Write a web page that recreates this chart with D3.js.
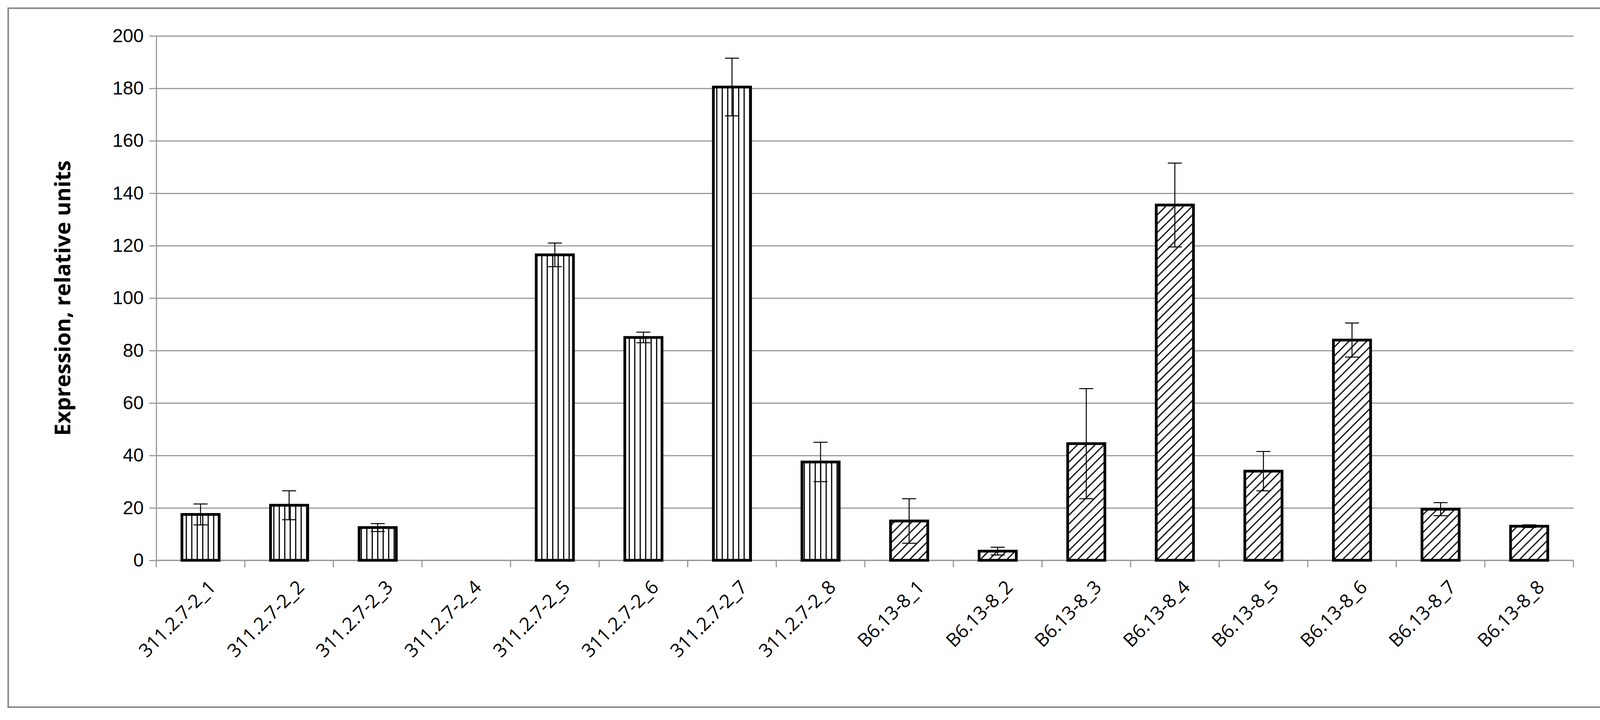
<!DOCTYPE html>
<html><head><meta charset="utf-8">
<script src="https://cdn.jsdelivr.net/npm/d3@7"></script>
<style>body{margin:0;background:#fff}</style>
</head><body><div id="chart"></div>
<script>
const categories = ["311.2.7-2_1","311.2.7-2_2","311.2.7-2_3","311.2.7-2_4","311.2.7-2_5","311.2.7-2_6","311.2.7-2_7","311.2.7-2_8",
  "B6.13-8_1","B6.13-8_2","B6.13-8_3","B6.13-8_4","B6.13-8_5","B6.13-8_6","B6.13-8_7","B6.13-8_8"]
const values = [17.5,21,12.5,0,116.5,85,180.5,37.5,15,3.5,44.5,135.5,34,84,19.5,13]
const errors = [4,5.5,1.5,0,4.5,2,11,7.5,8.5,1.5,21,16,7.5,6.5,2.5,0.5]
const groups = ["v","v","v","v","v","v","v","v","d","d","d","d","d","d","d","d"]
const yTicks = [0,20,40,60,80,100,120,140,160,180,200]

const W = 4128, H = 1844
const margin = { top: 92, right: 100, bottom: 409, left: 400 },
    width = W - margin.left - margin.right,
    height = H - margin.top - margin.bottom

const svg = d3.select("#chart").append("svg").attr("width", W).attr("height", H)
    .style("font-family", "'Open Sans', Lato, sans-serif")

// Hachures
const defs = svg.append("defs")
const pv = defs.append("pattern").attr("id", "pv").attr("patternUnits", "userSpaceOnUse")
    .attr("width", 14).attr("height", 14)
pv.append("rect").attr("width", 14).attr("height", 14).attr("fill", "#fff")
pv.append("line").attr("x1", 7).attr("x2", 7).attr("y1", 0).attr("y2", 14).attr("stroke", "#000").attr("stroke-width", 3)
const pd = defs.append("pattern").attr("id", "pd").attr("patternUnits", "userSpaceOnUse")
    .attr("width", 16).attr("height", 16).attr("patternTransform", "rotate(45)")
pd.append("rect").attr("width", 16).attr("height", 16).attr("fill", "#fff")
pd.append("line").attr("x1", 8).attr("x2", 8).attr("y1", 0).attr("y2", 16).attr("stroke", "#000").attr("stroke-width", 3)

// Cadre extérieur
svg.append("rect").attr("x", 21).attr("y", 21).attr("width", 4086).attr("height", 1790)
    .attr("fill", "none").attr("stroke", "#888").attr("stroke-width", 4)

const g = svg.append("g").attr("transform", "translate(" + margin.left + "," + margin.top + ")")

const x = d3.scaleBand().domain(categories).range([0, width]).paddingInner(0.58).paddingOuter(0.29)
const y = d3.scaleLinear().domain([0, 200]).range([height, 0])

// Grille
g.append("g").call(d3.axisLeft(y).tickValues(yTicks).tickSize(-width).tickFormat(""))
    .call(a => a.select(".domain").remove())
    .selectAll("line").attr("stroke", "#999").attr("stroke-width", 3)

// Axe Y
const ya = g.append("g").call(d3.axisLeft(y).tickValues(yTicks).tickSize(18).tickPadding(14))
ya.select(".domain").attr("stroke", "#999").attr("stroke-width", 3)
ya.selectAll("line").attr("stroke", "#999").attr("stroke-width", 3)
ya.selectAll("text").attr("font-size", 48).attr("fill", "#000")

// Axe X
const step = x.step()
const xa = g.append("g").attr("transform", "translate(0," + height + ")")
xa.append("line").attr("x1", 0).attr("x2", width).attr("stroke", "#999").attr("stroke-width", 3)
xa.selectAll(".tk").data(d3.range(categories.length + 1)).join("line")
    .attr("x1", i => i * step).attr("x2", i => i * step).attr("y1", 0).attr("y2", 18)
    .attr("stroke", "#999").attr("stroke-width", 3)
xa.selectAll(".lbl").data(categories).join("text")
    .attr("transform", d => "translate(" + (x(d) + x.bandwidth() / 2 + 18) + ",48) rotate(-45)")
    .attr("text-anchor", "end").attr("dy", "0.7em").attr("font-size", 48).text(d => d)

// Barres
const data = categories.map((c, i) => ({ c, v: values[i], e: errors[i], p: groups[i] }))
g.selectAll(".bar").data(data.filter(d => d.v > 0)).join("rect")
    .attr("x", d => x(d.c)).attr("width", x.bandwidth())
    .attr("y", d => y(d.v)).attr("height", d => y(0) - y(d.v))
    .attr("fill", d => "url(#p" + d.p + ")").attr("stroke", "#000").attr("stroke-width", 7)

// Barres d'erreur
const eb = g.selectAll(".err").data(data.filter(d => d.v > 0)).join("g")
    .attr("stroke", "#000").attr("stroke-width", 2.5)
eb.append("line").attr("x1", d => x(d.c) + x.bandwidth() / 2).attr("x2", d => x(d.c) + x.bandwidth() / 2)
    .attr("y1", d => y(d.v - d.e)).attr("y2", d => y(d.v + d.e))
eb.append("line").attr("x1", d => x(d.c) + x.bandwidth() / 2 - 18).attr("x2", d => x(d.c) + x.bandwidth() / 2 + 18)
    .attr("y1", d => y(d.v + d.e)).attr("y2", d => y(d.v + d.e))
eb.append("line").attr("x1", d => x(d.c) + x.bandwidth() / 2 - 18).attr("x2", d => x(d.c) + x.bandwidth() / 2 + 18)
    .attr("y1", d => y(d.v - d.e)).attr("y2", d => y(d.v - d.e))

// Titre axe Y
svg.append("text").attr("transform", "translate(180," + (margin.top + height / 2) + ") rotate(-90)")
    .attr("text-anchor", "middle").attr("font-size", 56).attr("font-weight", "bold")
    .text("Expression,  relative units")
</script></body></html>
